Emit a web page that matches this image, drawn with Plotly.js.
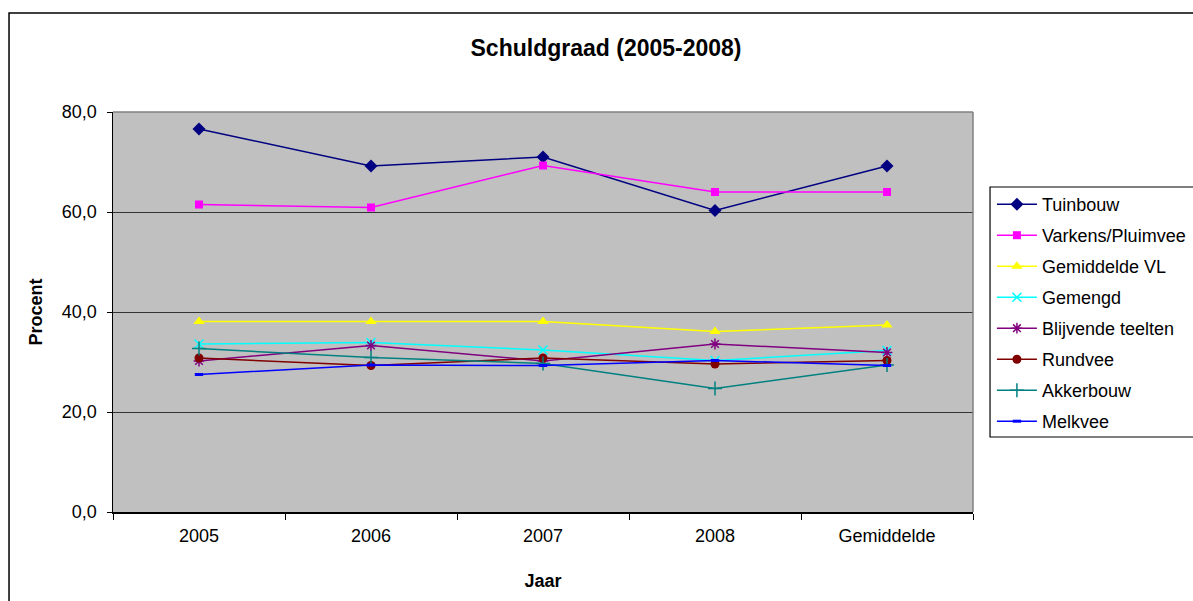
<!DOCTYPE html>
<html>
<head>
<meta charset="utf-8">
<script src="https://cdn.plot.ly/plotly-3.0.1.min.js"></script>
<style>html,body{margin:0;padding:0;background:#fff;}#chart{width:1193px;height:601px;}</style>
</head>
<body>
<div id="chart"></div>
<script>
const categories = ["2005", "2006", "2007", "2008", "Gemiddelde"];
const tuinbouw = [76.6, 69.2, 71.0, 60.3, 69.2];
const varkensPluimvee = [61.5, 60.9, 69.3, 64.0, 64.0];
const gemiddeldeVL = [38.1, 38.1, 38.1, 36.1, 37.4];
const gemengd = [33.6, 33.9, 32.4, 30.3, 32.3];
const blijvendeTeelten = [30.2, 33.3, 30.2, 33.6, 31.9];
const rundvee = [30.8, 29.3, 30.8, 29.6, 30.3];
const akkerbouw = [32.7, 30.9, 29.7, 24.7, 29.4];
const melkvee = [27.5, 29.4, 29.3, 30.3, 29.3];
const yTickVals = [0, 20, 40, 60, 80];
const yTickText = ["0,0", "20,0", "40,0", "60,0", "80,0"];

const seriesDefs = [
  {name: "Tuinbouw", y: tuinbouw, color: "#000080", symbol: "diamond", size: 10},
  {name: "Varkens/Pluimvee", y: varkensPluimvee, color: "#FF00FF", symbol: "square", size: 8},
  {name: "Gemiddelde VL", y: gemiddeldeVL, color: "#FFFF00", symbol: "triangle-up", size: 10},
  {name: "Gemengd", y: gemengd, color: "#00FFFF", symbol: "x-thin-open", size: 9},
  {name: "Blijvende teelten", y: blijvendeTeelten, color: "#800080", symbol: "asterisk-open", size: 9},
  {name: "Rundvee", y: rundvee, color: "#800000", symbol: "circle", size: 9},
  {name: "Akkerbouw", y: akkerbouw, color: "#008080", symbol: "cross-thin-open", size: 10},
  {name: "Melkvee", y: melkvee, color: "#0000FF", symbol: "line-ew-open", size: 6}
];

const traces = seriesDefs.map((s, i) => ({
  type: "scatter",
  mode: "lines+markers",
  name: s.name,
  x: categories,
  y: s.y,
  legendgroup: "g" + i,
  line: {color: s.color, width: 1.5},
  marker: {symbol: s.symbol, size: s.size, color: s.color,
           line: {color: s.color, width: (s.symbol.indexOf("open") >= 0 ? (s.symbol === "line-ew-open" ? 3 : 1.5) : 0)}}
}));

const layout = {
  width: 1193, height: 601,
  margin: {l: 113, r: 220, t: 112, b: 89, autoexpand: false},
  paper_bgcolor: "#FFFFFF",
  plot_bgcolor: "#C0C0C0",
  font: {family: "Liberation Sans, Arial, sans-serif", color: "#000"},
  title: {text: "<b>Schuldgraad (2005-2008)</b>", font: {size: 23, color: "#000"}, x: 0.508, xanchor: "center", y: 0.92, yanchor: "middle"},
  xaxis: {
    type: "category",
    tickson: "boundaries",
    ticks: "outside", ticklen: 6, tickcolor: "#000",
    showgrid: false, zeroline: false,
    showline: true, linecolor: "#000", linewidth: 2,
    tickfont: {size: 18},
    ticklabelstandoff: 6,
    title: {text: "<b>Jaar</b>", font: {size: 18}, standoff: 30},
    range: [-0.5, 4.5],
    automargin: false,
    fixedrange: true
  },
  yaxis: {
    range: [0, 80],
    tickvals: yTickVals, ticktext: yTickText,
    ticks: "outside", ticklen: 5, tickcolor: "#000",
    showgrid: true, gridcolor: "#333333", gridwidth: 1,
    zeroline: false,
    showline: true, linecolor: "#000", linewidth: 1.5,
    tickfont: {size: 18},
    ticklabelstandoff: 6,
    title: {text: "<b>Procent</b>", font: {size: 18}, standoff: 14},
    automargin: false,
    fixedrange: true
  },
  showlegend: true,
  legend: {
    x: 1.022, xanchor: "left", y: 0.815, yanchor: "top",
    bgcolor: "rgba(0,0,0,0)", borderwidth: 0,
    font: {size: 18},
    tracegroupgap: 4.6,
    itemwidth: 40
  },
  shapes: [
    {type: "rect", xref: "paper", yref: "paper", x0: -0.1209, x1: 1.5, y0: -0.6, y1: 1.2475,
     line: {color: "#000", width: 1.5}, fillcolor: "rgba(0,0,0,0)", layer: "below"},
    {type: "line", xref: "paper", yref: "paper", x0: 0, x1: 1, y0: 1, y1: 1, line: {color: "#808080", width: 1.5}},
    {type: "line", xref: "paper", yref: "paper", x0: 1, x1: 1, y0: 0, y1: 1, line: {color: "#808080", width: 1.5}},
    {type: "rect", xref: "paper", yref: "paper", x0: 1.0198, x1: 1.4, y0: 0.1875, y1: 0.8125,
     line: {color: "#000", width: 1.2}, fillcolor: "rgba(0,0,0,0)"}
  ]
};

Plotly.newPlot("chart", traces, layout, {displayModeBar: false, staticPlot: true});
</script>
</body>
</html>
